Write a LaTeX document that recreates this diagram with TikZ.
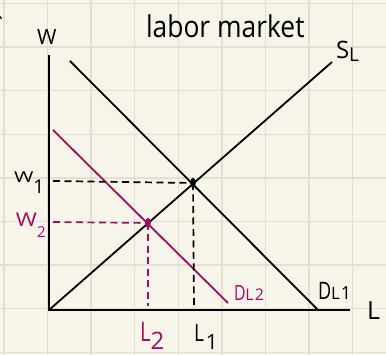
\documentclass[tikz,border=0pt]{standalone}
\usepackage{fontspec}
\setmainfont{Open Sans}
\definecolor{paper}{RGB}{247,245,234}
\definecolor{gridc}{RGB}{226,224,211}
\definecolor{mag}{RGB}{163,12,100}
\newcommand{\fs}[1]{\fontsize{#1}{#1}\selectfont}
\tikzset{
  gridline/.style={gridc, line width=1.4pt},
  curve/.style={black, line width=1.8pt},
  magcurve/.style={mag, line width=1.8pt},
  guide/.style={black, line width=1.7pt, dash pattern=on 7pt off 4.5pt},
  magguide/.style={mag, line width=1.7pt, dash pattern=on 7pt off 4.5pt},
  lbl/.style={anchor=base west, inner sep=0pt, outer sep=0pt},
}
\begin{document}
\begin{tikzpicture}[x=1pt, y=-1pt]
\useasboundingbox (0,0) rectangle (386,355);
\fill[paper] (0,0) rectangle (386,355);
% grid
\foreach \i in {0,...,8} {
  \draw[gridline] ({3.9+43.6*\i},0) -- ({3.9+43.6*\i},355);
  \draw[gridline] (0,{3.5+43.6*\i}) -- (386,{3.5+43.6*\i});
}
% stray mark
\draw[black, line width=1.2pt] (0,16.5) -- (1.5,19);
% key points
\coordinate (O) at (49,310);
\coordinate (ytop) at (49,55);
\coordinate (xend) at (350,310);
\coordinate (Stop) at (332,62);
\coordinate (D1a) at (70,61);
\coordinate (D1b) at (318,310);
\coordinate (D2a) at (53,130);
\coordinate (D2b) at (228,303);
\coordinate (E1) at (193,183);
\coordinate (E2) at (148,223);
\coordinate (w1) at (53,181);
\coordinate (l1) at (194,306);
\coordinate (w2) at (53,222);
\coordinate (l2) at (148,306);
% axes and curves
\draw[curve] (ytop) -- (O) -- (xend);
\draw[curve] (O) -- (Stop);
\draw[curve] (D1a) -- (D1b);
\draw[magcurve] (D2a) -- (D2b);
% guides
\draw[guide] (w1) -- (E1);
\draw[guide] (E1) -- (l1);
\draw[magguide] (w2) -- (E2);
\draw[magguide] (E2) -- (l2);
% equilibrium dots
\fill[black] (E1) ellipse (2.8 and 5.2);
\fill[mag] (E2) ellipse (2.8 and 5.2);
% labels
\node[lbl] (title) at (146,38) {\scalebox{0.88}[1]{\fs{30}labor market}};
\node[lbl] (wax) at (37,45) {\fs{21}W};
\node[lbl] (lax) at (367,320) {\fs{25}L};
\node[lbl] (sl) at (336,59) {\fs{24}S\raisebox{-3pt}{\fs{19}L}};
\node[lbl] (d1) at (318,300) {\scalebox{0.75}[1]{\fs{24}D}\raisebox{0pt}{\fs{17}L}\hspace{1pt}{\fs{18}1}};
\node[lbl, mag] (d2) at (234,301) {\scalebox{0.75}[1]{\fs{21}D}\raisebox{0pt}{\fs{16}L}\hspace{1pt}{\fs{16}2}};
\node[lbl] (w1l) at (14,183) {\scalebox{1.4}[1]{\fs{15}W}\raisebox{-11pt}{\fs{19}1}};
\node[lbl, mag] (w2l) at (16,227) {\scalebox{1.2}[1]{\fs{19}W}\raisebox{-11pt}{\fs{15}2}};
\node[lbl, mag] (l2l) at (140,342) {\scalebox{0.75}[1]{\fs{27}L}\raisebox{-8pt}{\fs{24}2}};
\node[lbl] (l1l) at (194,342) {\scalebox{0.8}[1]{\fs{24}L}\hspace{2pt}\raisebox{-8pt}{\fs{21}1}};
\end{tikzpicture}
\end{document}
